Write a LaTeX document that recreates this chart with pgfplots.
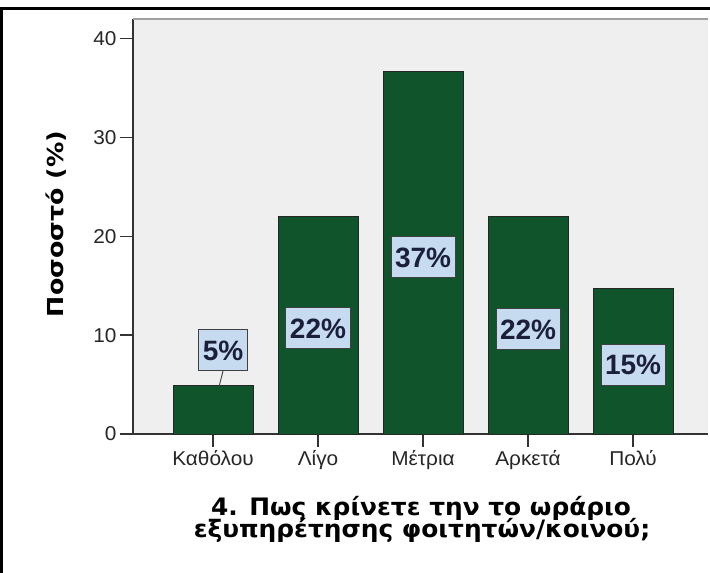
\documentclass[border=0pt]{standalone}
\usepackage{fontspec}
\setmainfont{Liberation Sans}
\newfontfamily\titlefont[FakeStretch=1.035]{DejaVu Sans}
\newfontfamily\ylabfont[FakeStretch=1.15]{DejaVu Sans}
\newfontfamily\tickfont[FakeStretch=1.04]{Liberation Sans}
\usepackage{pgfplots}
\pgfplotsset{compat=1.18}
\definecolor{bargreen}{HTML}{10542C}
\definecolor{plotbg}{HTML}{EFEFEF}
\definecolor{boxblue}{HTML}{C6DBF0}
\definecolor{navy}{HTML}{1B1F3B}
\begin{document}
\begin{tikzpicture}[x=1pt,y=1pt]
\path[use as bounding box] (0,0) rectangle (710,573);
\fill[white] (0,0) rectangle (710,573);
\begin{axis}[
  at={(133pt,139pt)}, anchor=south west,
  scale only axis, width=575pt, height=415pt,
  xmin=-0.762, xmax=4.714, ymin=0, ymax=42,
  axis background/.style={fill=plotbg},
  axis x line*=bottom, axis y line*=left,
  axis line style={draw=black!80, line width=1.6pt, -},
  xtick={0,1,2,3,4},
  xticklabels={Καθόλου,Λίγο,Μέτρια,Αρκετά,Πολύ},
  ytick={0,10,20,30,40},
  tick align=outside, major tick length=13pt,
  tick style={draw=black!80, line width=1.4pt},
  ticklabel style={font=\tickfont\fontsize{20}{22}\selectfont, text=black!85},
  /pgf/number format/assume math mode=true,
  clip=false,
]
\draw[gray!75, line width=2pt] (rel axis cs:0,1) -- (rel axis cs:1,1);
\addplot[ybar, bar width=80pt, bar shift=0pt, fill=bargreen, draw=black!85, line width=0.8pt]
  coordinates {(0,4.9) (1,22.0) (2,36.7) (3,22.0) (4,14.7)};
\draw[black!70, line width=1pt] (axis cs:0.06,4.9) -- (axis cs:0.095,6.37);
\addplot[draw=none, point meta=explicit symbolic, nodes near coords,
  every node near coord/.append style={anchor=center, fill=boxblue, draw=black!75,
    line width=1pt, text=navy, font=\fontsize{28}{30}\selectfont\bfseries,
    inner xsep=4pt, inner ysep=10.5pt, text height=20pt, text depth=0pt}]
  coordinates {(0.095,8.5) [5\%] (1,10.7) [22\%] (2,17.9) [37\%] (3,10.6) [22\%] (4,7.0) [15\%]};
\end{axis}
\node[rotate=90, font=\ylabfont\bfseries\fontsize{22}{24}\selectfont] at (56,349) {Ποσοστό (\%)};
\node[anchor=base, font=\titlefont\bfseries\fontsize{24}{24}\selectfont] at (421,57) {4. Πως κρίνετε την το ωράριο};
\node[anchor=base, font=\titlefont\bfseries\fontsize{24}{24}\selectfont] at (422,35) {εξυπηρέτησης φοιτητών/κοινού;};
\draw[black, line width=3pt] (0,564) -- (710,564);
\draw[black, line width=3pt] (1.5,565.5) -- (1.5,0);
\end{tikzpicture}
\end{document}
